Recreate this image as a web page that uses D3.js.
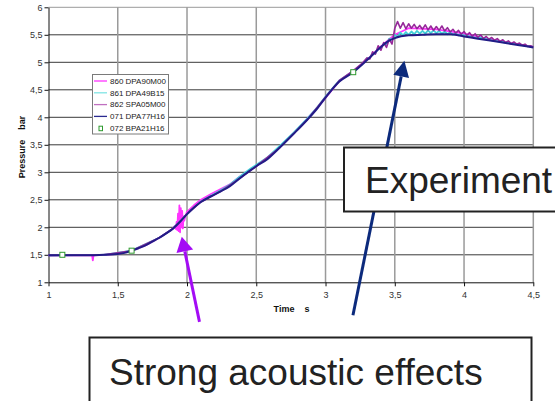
<!DOCTYPE html>
<html><head><meta charset="utf-8">
<script src="https://cdn.jsdelivr.net/npm/d3@7"></script>
<style>
body{margin:0;background:#fff;}
svg{display:block;font-family:"Liberation Sans",Arial,sans-serif;}
</style></head>
<body><svg id="c" width="555" height="401"></svg>
<script>
// ---------- data ----------
const xTicks = [1,1.5,2,2.5,3,3.5,4,4.5];
const xTickLabels = ["1","1,5","2","2,5","3","3,5","4","4,5"];
const yTicks = [1,1.5,2,2.5,3,3.5,4,4.5,5,5.5,6];
const yTickLabels = ["1","1,5","2","2,5","3","3,5","4","4,5","5","5,5","6"];
const seriesNames = ["860 DPA90M00","861 DPA49B15","862 SPA05M00","071 DPA77H16","072 BPA21H16"];

// 071 DPA77H16 (navy)
const t071 = [1.0,1.1,1.2,1.3,1.4,1.45,1.5,1.55,1.6,1.65,1.7,1.75,1.8,1.85,1.9,1.95,2.0,2.05,2.1,2.17,2.24,2.31,2.38,2.46,2.5,2.58,2.67,2.77,2.87,2.94,3.01,3.1,3.2,3.3,3.4,3.45,3.5,3.6,3.7,3.8,3.9,4.0,4.1,4.2,4.3,4.4,4.5];
const p071 = [1.49,1.49,1.49,1.49,1.50,1.505,1.515,1.535,1.575,1.62,1.67,1.74,1.81,1.89,1.98,2.10,2.24,2.36,2.46,2.56,2.65,2.75,2.89,3.04,3.11,3.24,3.45,3.70,3.96,4.16,4.39,4.65,4.82,5.04,5.28,5.38,5.44,5.49,5.50,5.51,5.51,5.47,5.43,5.39,5.35,5.31,5.27];

// 860 DPA90M00 (magenta)
const t860 = [1.0,1.2,1.3,1.315,1.32,1.325,1.4,1.5,1.6,1.7,1.8,1.9,1.91,1.92,1.925,1.93,1.935,1.94,1.945,1.95,1.955,1.96,1.965,1.97,1.975,1.98,1.99,2.0,2.05,2.1,2.17,2.24,2.31,2.38,2.46,2.58,2.77,2.94,3.1,3.2,3.3,3.4,3.5,3.6,3.8,4.0,4.2,4.5];
const p860 = [1.49,1.49,1.49,1.49,1.40,1.49,1.50,1.515,1.575,1.67,1.81,1.98,2.02,1.97,2.10,1.95,2.25,1.93,2.40,1.91,2.35,2.00,2.30,1.98,2.20,2.12,2.22,2.28,2.40,2.50,2.60,2.69,2.78,2.92,3.05,3.25,3.71,4.17,4.66,4.83,5.05,5.29,5.50,5.62,5.60,5.52,5.41,5.28];

// 861 DPA49B15 (cyan)
const t861 = [1.0,1.4,1.6,1.8,1.9,2.0,2.1,2.24,2.31,2.38,2.46,2.58,2.67,2.77,2.87,2.94,3.01,3.1,3.2,3.26,3.30,3.32,3.34,3.36,3.38,3.40,3.42,3.44,3.46,3.48,3.50,3.52,3.54,3.56,3.58,3.60,3.62,3.64,3.66,3.68,3.70,3.72,3.74,3.76,3.78,3.80,3.82,3.84,3.86,3.88,3.90,3.92,3.94,3.96,3.98,4.00,4.02,4.04,4.06,4.08,4.10,4.2,4.3,4.4,4.5];
const p861 = [1.49,1.50,1.575,1.81,1.98,2.24,2.47,2.67,2.78,2.92,3.07,3.27,3.48,3.72,3.98,4.18,4.41,4.67,4.84,4.96,5.07,5.08,5.17,5.16,5.26,5.25,5.34,5.33,5.43,5.41,5.50,5.46,5.54,5.49,5.55,5.50,5.56,5.51,5.57,5.52,5.57,5.52,5.58,5.53,5.58,5.53,5.57,5.52,5.56,5.51,5.55,5.50,5.53,5.49,5.52,5.48,5.50,5.46,5.48,5.44,5.46,5.40,5.36,5.32,5.28];

// 862 SPA05M00 (purple)
const t862 = [1.0,1.4,1.6,1.8,1.9,2.0,2.1,2.24,2.38,2.5,2.67,2.87,3.01,3.1,3.2,3.26,3.30,3.32,3.34,3.36,3.38,3.40,3.42,3.44,3.46,3.48,3.50,3.52,3.54,3.56,3.58,3.60,3.62,3.64,3.66,3.68,3.70,3.72,3.74,3.76,3.78,3.80,3.82,3.84,3.86,3.88,3.90,3.92,3.94,3.96,3.98,4.00,4.02,4.04,4.06,4.08,4.10,4.12,4.14,4.16,4.18,4.20,4.22,4.24,4.26,4.28,4.30,4.32,4.34,4.36,4.38,4.40,4.42,4.44,4.46,4.48,4.50];
const p862 = [1.49,1.50,1.575,1.81,1.98,2.24,2.46,2.65,2.89,3.11,3.45,3.96,4.40,4.67,4.85,4.97,5.08,5.06,5.19,5.15,5.30,5.22,5.36,5.27,5.42,5.33,5.62,5.74,5.62,5.72,5.61,5.70,5.62,5.69,5.61,5.67,5.60,5.68,5.59,5.66,5.58,5.65,5.58,5.66,5.57,5.63,5.55,5.60,5.53,5.58,5.51,5.56,5.49,5.54,5.47,5.52,5.45,5.50,5.43,5.47,5.42,5.45,5.40,5.43,5.38,5.41,5.36,5.39,5.34,5.37,5.33,5.35,5.31,5.33,5.29,5.30,5.28];

// 072 BPA21H16 (green square markers)
const t072 = [1.1,1.6,3.2];
const p072 = [1.5,1.575,4.82];

// annotations (data coordinates of arrows)
const annotations = [
  {text:"Strong acoustic effects", tail:[2.09,0.28], tip:[1.962,1.83]},
  {text:"Experiment", tail:[3.198,0.40], tip:[3.569,5.03]}
];

// ---------- drawing ----------
const svg = d3.select("#c");
const x = d3.scaleLinear().domain([1,4.5]).range([48.5,533.3]);
const y = d3.scaleLinear().domain([1,6]).range([282.3,7.3]);

svg.append("rect").attr("width",555).attr("height",401).attr("fill","#fff");

// grid
const g = svg.append("g");
g.selectAll("line.h").data(yTicks.slice(1)).join("line")
  .attr("x1",x(1)).attr("x2",x(4.5)).attr("y1",d=>y(d)).attr("y2",d=>y(d))
  .attr("stroke",d=>d===6?"#9a9a9a":"#3a3a3a").attr("stroke-width",1);
g.selectAll("line.v").data(xTicks.slice(1)).join("line")
  .attr("y1",y(1)).attr("y2",y(6)).attr("x1",d=>x(d)).attr("x2",d=>x(d))
  .attr("stroke","#9a9a9a").attr("stroke-width",1.5);

// axes
const xa = svg.append("g").attr("transform",`translate(0,${y(1)})`)
  .call(d3.axisBottom(x).tickValues(xTicks).tickFormat((d,i)=>xTickLabels[i]).tickSize(4).tickSizeOuter(0).tickPadding(5));
const ya = svg.append("g").attr("transform",`translate(${x(1)},0)`)
  .call(d3.axisLeft(y).tickValues(yTicks).tickFormat((d,i)=>yTickLabels[i]).tickSize(4).tickSizeOuter(0).tickPadding(2));
[xa,ya].forEach(a=>{
  a.selectAll("path,line").attr("stroke","#111");
  a.selectAll("text").attr("font-size",9).attr("fill","#333").attr("font-family","Liberation Sans, Arial, sans-serif");
});

// axis titles
svg.append("text").attr("x",291.5).attr("y",312).attr("text-anchor","middle")
  .attr("font-size",9).attr("font-weight","bold").attr("fill","#111")
  .style("white-space","pre").text("Time    s");
svg.append("text").attr("transform","translate(25,147) rotate(-90)").attr("text-anchor","middle")
  .attr("font-size",9).attr("font-weight","bold").attr("fill","#111")
  .style("white-space","pre").text("Pressure    bar");

// lines
const colors = ["#ff33ff","#40d0d8","#96289a","#221c86","#2e9a2e"];
const legendColors = ["#ff33ff","#80e4e4","#c070c0","#2a2a90","#2e9a2e"];
const widths = [1.8,1.8,1.6,2];
const series = [[t860,p860],[t861,p861],[t862,p862],[t071,p071]];
const lineLin = d3.line().x(d=>x(d[0])).y(d=>y(d[1]));
const lineSmooth = d3.line().x(d=>x(d[0])).y(d=>y(d[1])).curve(d3.curveMonotoneX);
series.forEach((s,i)=>{
  const pts = s[0].map((t,k)=>[t,s[1][k]]);
  svg.append("path").datum(pts).attr("d",i===3?lineSmooth:lineLin).attr("fill","none")
    .attr("stroke",colors[i]).attr("stroke-width",widths[i]).attr("stroke-linejoin","round");
});
svg.selectAll("rect.m").data(t072.map((t,k)=>[t,p072[k]])).join("rect")
  .attr("x",d=>x(d[0])-2.5).attr("y",d=>y(d[1])-2.5).attr("width",5).attr("height",5)
  .attr("fill","#fff").attr("stroke",colors[4]).attr("stroke-width",1);

// legend
const lg = svg.append("g");
lg.append("rect").attr("x",92.5).attr("y",74.5).attr("width",76).attr("height",59.5)
  .attr("fill","#fff").attr("stroke","#7a7a7a").attr("stroke-width",1);
seriesNames.forEach((n,i)=>{
  const yy = 81 + i*11.8;
  if(i<4){
    lg.append("line").attr("x1",94).attr("x2",107).attr("y1",yy).attr("y2",yy)
      .attr("stroke",legendColors[i]).attr("stroke-width",1.3);
  } else {
    lg.append("rect").attr("x",99).attr("y",yy-2).attr("width",3.5).attr("height",4.5)
      .attr("fill","#fff").attr("stroke",legendColors[i]).attr("stroke-width",1);
  }
  lg.append("text").attr("x",110).attr("y",yy).attr("dy","0.35em")
    .attr("font-size",8).attr("fill","#222").text(n);
});

// arrows
function arrow(a, color, L, W){
  const tail=[x(a.tail[0]),y(a.tail[1])], tip=[x(a.tip[0]),y(a.tip[1])];
  const dx=tip[0]-tail[0], dy=tip[1]-tail[1], len=Math.hypot(dx,dy);
  const u=[dx/len,dy/len], n=[-u[1],u[0]];
  const b=[tip[0]-L*u[0], tip[1]-L*u[1]];
  svg.append("line").attr("x1",tail[0]).attr("y1",tail[1]).attr("x2",b[0]).attr("y2",b[1])
    .attr("stroke",color).attr("stroke-width",3);
  svg.append("polygon").attr("points",[tip,[b[0]+n[0]*W/2,b[1]+n[1]*W/2],[b[0]-n[0]*W/2,b[1]-n[1]*W/2]].map(p=>p.join(",")).join(" "))
    .attr("fill",color);
}
arrow(annotations[0],"#a40cf5",15,17);
arrow(annotations[1],"#0c2a7c",16,16);

// text boxes
svg.append("rect").attr("x",344).attr("y",147.5).attr("width",240).attr("height",64)
  .attr("fill","#fff").attr("stroke","#222").attr("stroke-width",2);
svg.append("text").attr("x",365).attr("y",193).attr("font-size",37).attr("fill","#222").text(annotations[1].text);
svg.append("rect").attr("x",89.5).attr("y",337.5).attr("width",442).attr("height",90)
  .attr("fill","#fff").attr("stroke","#222").attr("stroke-width",2);
svg.append("text").attr("x",109).attr("y",385).attr("font-size",37).attr("fill","#222").text(annotations[0].text);
</script></body></html>
